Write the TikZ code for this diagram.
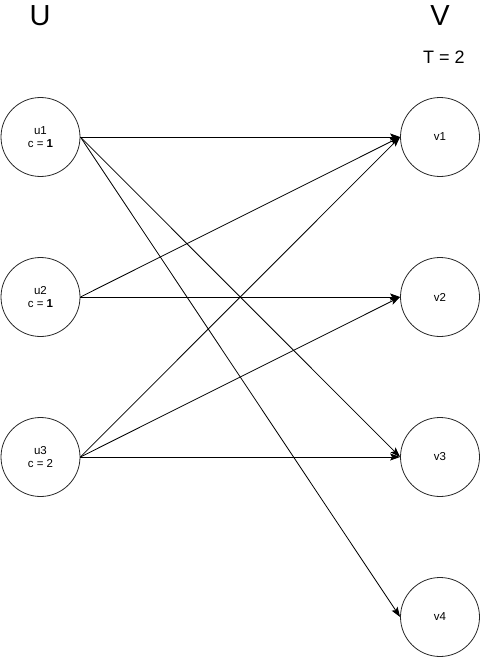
\documentclass[tikz,border=0pt]{standalone}
\usepackage{fontspec}
\setmainfont{Liberation Sans}
\usetikzlibrary{arrows.meta}
\begin{document}
\begin{tikzpicture}[x=1pt,y=-1pt,
  vtx/.style={circle,draw=black!85,line width=0.8pt,minimum size=79pt,inner sep=0pt,align=center,font=\fontsize{11.5}{13.5}\selectfont},
  setlabel/.style={font=\fontsize{29}{32}\selectfont,inner sep=0pt},
  edge/.style={draw=black,line width=0.8pt,-{Stealth[length=10pt,width=7pt,inset=2pt]}}]
\useasboundingbox (0,0) rectangle (481,658);
\node[setlabel] (U) at (40,16) {U};
\node[setlabel] (V) at (440,16) {V};
\node[font=\fontsize{18}{20}\selectfont,inner sep=0pt] (T) at (444,57) {T = 2};
\node[vtx] (u1) at (40.5,137) {u1\\c = \textbf{1}};
\node[vtx] (u2) at (40.5,297) {u2\\c = \textbf{1}};
\node[vtx] (u3) at (40.5,457) {u3\\c = 2};
\node[vtx] (v1) at (440,137) {v1};
\node[vtx] (v2) at (440,297) {v2};
\node[vtx] (v3) at (440,457) {v3};
\node[vtx] (v4) at (440,617) {v4};
\draw[edge] (u1.east) -- (v1.west);
\draw[edge] (u1.east) -- (v3.west);
\draw[edge] (u1.east) -- (v4.west);
\draw[edge] (u2.east) -- (v1.west);
\draw[edge] (u2.east) -- (v2.west);
\draw[edge] (u3.east) -- (v1.west);
\draw[edge] (u3.east) -- (v2.west);
\draw[edge] (u3.east) -- (v3.west);
\end{tikzpicture}
\end{document}
